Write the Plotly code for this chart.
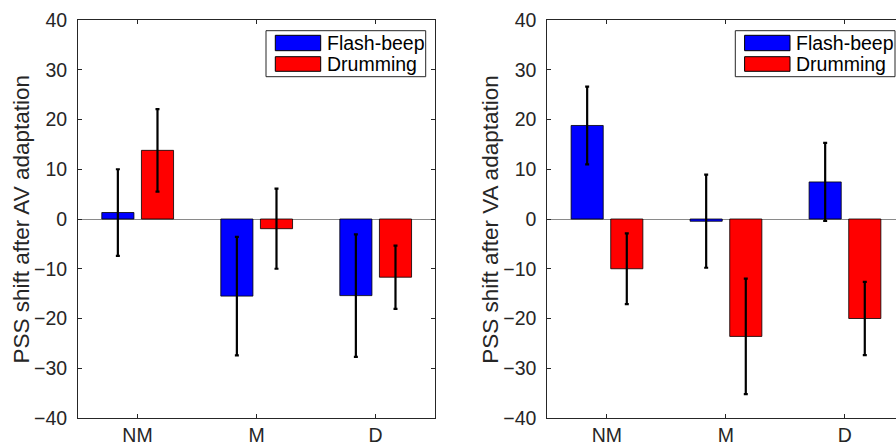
import plotly.graph_objects as go

# ---- data ----
categories = ["NM", "M", "D"]
series_names = ["Flash-beep", "Drumming"]
x_pos = [1, 2, 3]

av_flash = [1.3, -15.5, -15.4]
av_flash_err = [8.7, 11.9, 12.3]
av_drum = [13.8, -1.95, -11.7]
av_drum_err = [8.3, 8.05, 6.35]

va_flash = [18.8, -0.45, 7.45]
va_flash_err = [7.8, 9.35, 7.85]
va_drum = [-10.0, -23.6, -20.0]
va_drum_err = [7.1, 11.6, 7.35]

y_ticks = [-40, -30, -20, -10, 0, 10, 20, 30, 40]
y_labels = ["PSS shift after AV adaptation", "PSS shift after VA adaptation"]

# ---- style / layout ----
W, H = 896, 445
FONT = "Liberation Sans, Arial, Helvetica, sans-serif"
TXT = "#262626"
colors = ["#0000FF", "#FF0000"]
AX_TOP, AX_BOT = 20.0, 418.0
L1_LEFT, L1_RIGHT = 78.0, 435.0
L2_LEFT = 547.3
UNIT = (L1_RIGHT - L1_LEFT) / 3.0

fig = go.Figure()

def add_bars(xa, ya, vals_list, errs_list):
    offsets = [-0.30, 0.033]
    for i, (vals, errs) in enumerate(zip(vals_list, errs_list)):
        fig.add_trace(go.Bar(
            x=x_pos, y=vals, name=series_names[i],
            offset=offsets[i], width=0.27,
            marker=dict(color=colors[i], line=dict(color="black", width=0.8)),
            error_y=dict(type="data", array=errs, visible=True,
                         color="black", thickness=2.2, width=2),
            xaxis=xa, yaxis=ya, showlegend=False, hoverinfo="skip",
        ))

add_bars("x", "y", [av_flash, av_drum], [av_flash_err, av_drum_err])
add_bars("x2", "y2", [va_flash, va_drum], [va_flash_err, va_drum_err])

ydom = [1 - AX_BOT / H, 1 - AX_TOP / H]
axis_common = dict(showline=True, linecolor=TXT, linewidth=1, ticks="inside",
                   ticklen=4, tickcolor=TXT, showgrid=False, automargin=False,
                   tickfont=dict(family=FONT, size=19.5, color=TXT))

x2_max = 0.5 + (W - L2_LEFT) / UNIT

fig.update_layout(
    width=W, height=H,
    margin=dict(l=0, r=0, t=0, b=0, pad=0),
    plot_bgcolor="white", paper_bgcolor="white",
    barmode="overlay",
    xaxis=dict(domain=[L1_LEFT / W, L1_RIGHT / W], range=[0.5, 3.5],
               tickvals=x_pos, ticktext=categories, mirror="ticks",
               zeroline=False, ticklabelstandoff=0, anchor="y", **axis_common),
    yaxis=dict(domain=ydom, range=[-40, 40], tickvals=y_ticks,
               mirror="ticks", zeroline=True, zerolinecolor="#8a8a8a",
               zerolinewidth=1, ticklabelstandoff=6, anchor="x", **axis_common),
    xaxis2=dict(domain=[L2_LEFT / W, 1.0], range=[0.5, x2_max],
                tickvals=x_pos, ticktext=categories, mirror="ticks",
                zeroline=False, ticklabelstandoff=0, anchor="y2", **axis_common),
    yaxis2=dict(domain=ydom, range=[-40, 40], tickvals=y_ticks,
                mirror=False, zeroline=True, zerolinecolor="#8a8a8a",
                zerolinewidth=1, ticklabelstandoff=6, anchor="x2", **axis_common),
)

# y-axis titles
for left, label in [(L1_LEFT, y_labels[0]), (L2_LEFT, y_labels[1])]:
    fig.add_annotation(text=label, textangle=-90, xref="paper", yref="paper",
                       x=(left - 57.5) / W, y=1 - ((AX_TOP + AX_BOT) / 2) / H,
                       xanchor="center", yanchor="middle", showarrow=False,
                       font=dict(family=FONT, size=22.5, color=TXT))

# custom legends (wide swatches, as in the reference)
def px_x(v):
    return v / W

def px_y(v):
    return 1 - v / H

for left in (L1_LEFT, L2_LEFT):
    bx0, bx1 = left + 188.0, left + 347.7
    fig.add_shape(type="rect", xref="paper", yref="paper",
                  x0=px_x(bx0), x1=px_x(bx1), y0=px_y(76.7), y1=px_y(30.7),
                  line=dict(color=TXT, width=1), fillcolor="white", layer="above")
    rows = [(35.3, 50.7), (56.7, 71.3)]
    for i, (t, b) in enumerate(rows):
        fig.add_shape(type="rect", xref="paper", yref="paper",
                      x0=px_x(left + 197.3), x1=px_x(left + 242.7),
                      y0=px_y(b), y1=px_y(t),
                      line=dict(color="black", width=1), fillcolor=colors[i],
                      layer="above")
        fig.add_annotation(text=series_names[i], xref="paper", yref="paper",
                           x=px_x(left + 246.5), y=px_y((t + b) / 2),
                           xanchor="left", yanchor="middle", showarrow=False,
                           font=dict(family=FONT, size=19.5, color="black"))

fig.write_html("out.html",
               config={"displayModeBar": False},
               post_script="document.body.style.margin='0';"
                           "document.body.style.overflow='hidden';")
